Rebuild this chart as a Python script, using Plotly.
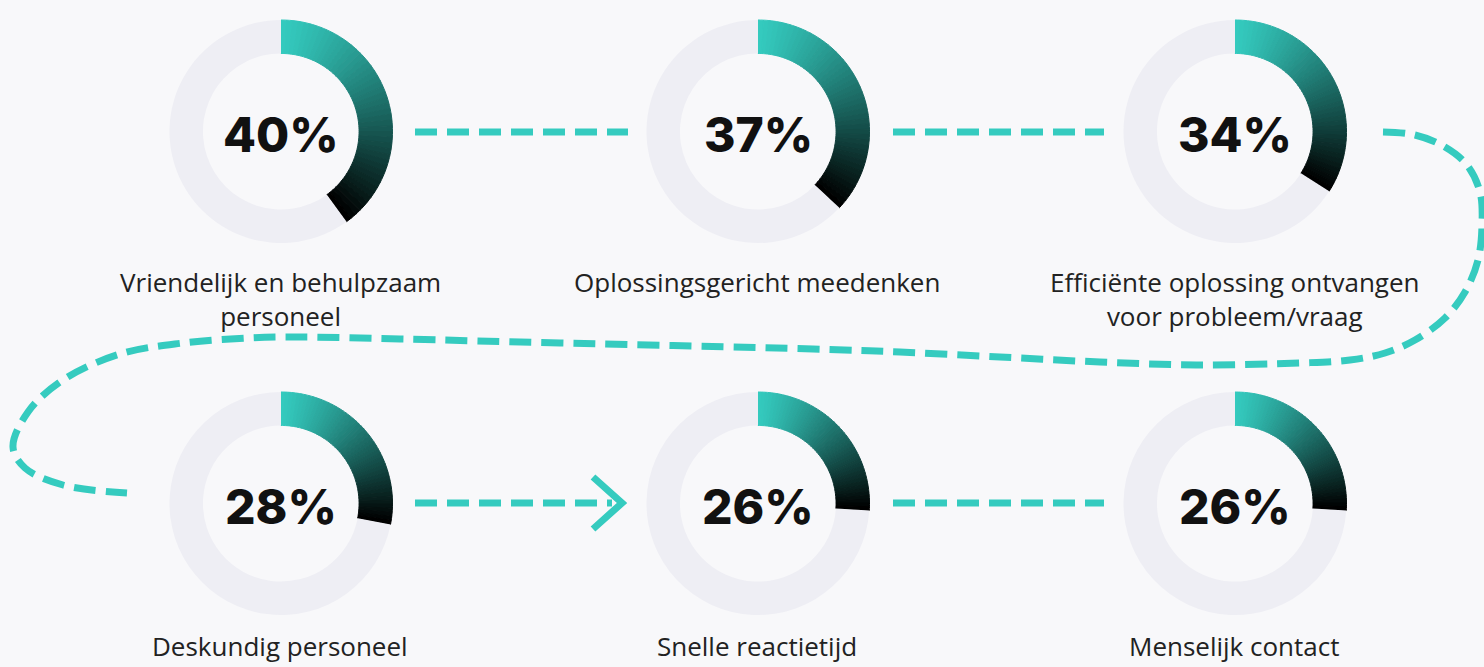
import plotly.graph_objects as go

# ---- data ----
labels = [
    "Vriendelijk en behulpzaam<br>personeel",
    "Oplossingsgericht meedenken",
    "Efficiënte oplossing ontvangen<br>voor probleem/vraag",
    "Deskundig personeel",
    "Snelle reactietijd",
    "Menselijk contact",
]
percentages = [40, 37, 34, 28, 26, 26]

# ---- layout constants (pixels) ----
W, H = 1484, 667
col_x = [281, 758, 1235]
row_y = [131.5, 503.5]
R = 111.5
HOLE = 0.70
TEAL = (52, 202, 190)
TRACK = "#eeeef4"
BG = "#f8f8fa"
DASH_COLOR = "#35cbbf"
N_SEG = 48


def grad_color(t):
    t = t ** 1.2
    r = round(TEAL[0] * (1 - t))
    g = round(TEAL[1] * (1 - t))
    b = round(TEAL[2] * (1 - t))
    return f"rgb({r},{g},{b})"


fig = go.Figure()

# ---- connectors (decorative, pixel space) ----
conn_style = dict(color=DASH_COLOR, width=7, dash="22px,10px")
fig.add_trace(go.Scatter(x=[415, 628], y=[132, 132], mode="lines",
                         line=conn_style, hoverinfo="skip", showlegend=False))
fig.add_trace(go.Scatter(x=[893, 1104], y=[132, 132], mode="lines",
                         line=conn_style, hoverinfo="skip", showlegend=False))
loop_x = [1383, 1415, 1445, 1467, 1480, 1482, 1478, 1465, 1445, 1415, 1385, 1350,
          1300, 1200, 1100, 1000, 900, 813, 560, 400, 300, 247, 183, 120, 63, 28,
          13, 25, 63, 127]
loop_y = [132, 135, 147, 165, 192, 225, 260, 292, 318, 340, 353, 360,
          363, 365, 362, 357, 352, 349, 343, 339, 337, 338, 343, 354, 380, 412,
          447, 468, 485, 493]
fig.add_trace(go.Scatter(x=loop_x, y=loop_y, mode="lines",
                         line=dict(conn_style, shape="spline", smoothing=1.0),
                         hoverinfo="skip", showlegend=False))
fig.add_trace(go.Scatter(x=[415, 612], y=[503, 503], mode="lines",
                         line=conn_style, hoverinfo="skip", showlegend=False))
fig.add_trace(go.Scatter(x=[593, 622, 593], y=[477, 503, 529], mode="lines",
                         line=dict(color=DASH_COLOR, width=7),
                         hoverinfo="skip", showlegend=False))
fig.add_trace(go.Scatter(x=[893, 1104], y=[503, 503], mode="lines",
                         line=conn_style, hoverinfo="skip", showlegend=False))

# ---- donuts ----
annotations = []
for i, (lab, pct) in enumerate(zip(labels, percentages)):
    cx = col_x[i % 3]
    cy = row_y[i // 3]
    seg_vals = [pct / N_SEG] * N_SEG + [100 - pct]
    seg_cols = [grad_color(k / (N_SEG - 1)) for k in range(N_SEG)] + [TRACK]
    line_cols = seg_cols[:-1] + [TRACK]
    line_w = [1] * N_SEG + [0]
    fig.add_trace(go.Pie(
        values=seg_vals,
        sort=False,
        direction="clockwise",
        rotation=0,
        hole=HOLE,
        marker=dict(colors=seg_cols, line=dict(color=line_cols, width=line_w)),
        textinfo="none",
        hoverinfo="skip",
        showlegend=False,
        domain=dict(x=[(cx - R) / W, (cx + R) / W],
                    y=[1 - (cy + R) / H, 1 - (cy - R) / H]),
    ))
    annotations.append(dict(
        x=cx, y=cy + 3, xref="x", yref="y", text=f"{pct}%", showarrow=False,
        font=dict(family="Inter", size=48, color="#111111", weight=800),
        xanchor="center", yanchor="middle"))
    if cy < 300:
        annotations.append(dict(
            x=cx - 1, y=262, xref="x", yref="y", text=lab, showarrow=False,
            font=dict(family="Open Sans", size=26, color="#222222"),
            xanchor="center", yanchor="top", align="center"))
    else:
        annotations.append(dict(
            x=cx - 1, y=666, xref="x", yref="y", text=lab, showarrow=False,
            font=dict(family="Open Sans", size=26, color="#222222"),
            xanchor="center", yanchor="bottom", align="center"))

fig.update_layout(
    width=W, height=H,
    margin=dict(l=0, r=0, t=0, b=0),
    paper_bgcolor=BG, plot_bgcolor=BG,
    xaxis=dict(range=[0, W], visible=False, fixedrange=True),
    yaxis=dict(range=[H, 0], visible=False, fixedrange=True),
    annotations=annotations,
    showlegend=False,
)

fig.write_html("out.html", config={"displayModeBar": False})
